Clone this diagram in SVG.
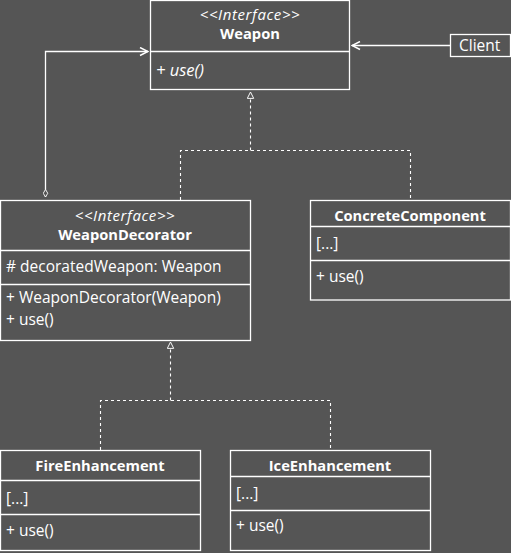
<svg xmlns="http://www.w3.org/2000/svg" width="511" height="553" viewBox="0 0 511 553">
<defs>
<style>
.bx{fill:none;stroke:#ffffff;stroke-width:1.3}
.ln{stroke:#ffffff;stroke-width:1.3;fill:none}
.ds{stroke:#ffffff;stroke-width:1.1;fill:none;stroke-dasharray:3,3}
text{font-family:"Open Sans","Liberation Sans",sans-serif;fill:#ffffff;font-size:15.5px}
.b{font-weight:bold;font-size:14.7px}
.i{font-style:italic}
.s{font-size:15px;letter-spacing:0.6px}
.c{text-anchor:middle}
</style>
<marker id="open" viewBox="0 0 10 10" refX="9" refY="5" markerWidth="10" markerHeight="10" markerUnits="userSpaceOnUse" orient="auto">
<path d="M1,1 L9,5 L1,9" fill="none" stroke="#fff" stroke-width="1.5"/>
</marker>
<marker id="tri" viewBox="0 0 10 10" refX="9" refY="5" markerWidth="8" markerHeight="8" markerUnits="userSpaceOnUse" orient="auto">
<path d="M1,1 L9,5 L1,9 Z" fill="#555555" stroke="#fff" stroke-width="1.2"/>
</marker>
<marker id="dia" viewBox="0 0 12 8" refX="1" refY="4" markerWidth="10" markerHeight="6" markerUnits="userSpaceOnUse" orient="auto">
<path d="M1,4 L6,1 L11,4 L6,7 Z" fill="#555555" stroke="#fff" stroke-width="1.2"/>
</marker>
</defs>
<rect width="511" height="553" fill="#555555"/>
<g id="connectors">
<path class="ln" d="M45.5,197 L45.5,51.5 L148,51.5" marker-start="url(#dia)" marker-end="url(#open)"/>
<path class="ln" d="M450,45.5 L352,45.5" marker-end="url(#open)"/>
<path class="ds" d="M250.5,150.5 L250.5,92" marker-end="url(#tri)"/>
<path class="ds" d="M180.5,200 L180.5,150.5 L410.5,150.5 L410.5,200"/>
<path class="ds" d="M170.5,400.5 L170.5,342" marker-end="url(#tri)"/>
<path class="ds" d="M100.5,450 L100.5,400.5 L330.5,400.5 L330.5,450"/>
</g>
<g id="weapon">
<rect class="bx" x="150.5" y="0.5" width="199" height="89" fill="#555555"/>
<line class="ln" x1="150.5" y1="51.5" x2="349.5" y2="51.5" stroke-width="2"/>
<text class="c i s" x="250" y="20">&lt;&lt;Interface&gt;&gt;</text>
<text class="c b" x="250" y="39">Weapon</text>
<text class="i" x="156" y="76" style="font-size:16.5px">+ use()</text>
</g>
<g id="client">
<rect class="bx" x="450.5" y="34.5" width="60" height="22"/>
<text x="459" y="51">Client</text>
</g>
<g id="weaponDecorator">
<rect class="bx" x="0.5" y="200.5" width="250" height="140"/>
<line class="ln" x1="0.5" y1="250.5" x2="250.5" y2="250.5"/>
<line class="ln" x1="0.5" y1="284.5" x2="250.5" y2="284.5"/>
<text class="c i s" x="125" y="221">&lt;&lt;Interface&gt;&gt;</text>
<text class="c b" x="125" y="240">WeaponDecorator</text>
<text x="6" y="272"># decoratedWeapon: Weapon</text>
<text x="6" y="302.5">+ WeaponDecorator(Weapon)</text>
<text x="6" y="324.5">+ use()</text>
</g>
<g id="concreteComponent">
<rect class="bx" x="310.5" y="200.5" width="200" height="99.5"/>
<line class="ln" x1="310.5" y1="226.5" x2="510.5" y2="226.5"/>
<line class="ln" x1="310.5" y1="260.5" x2="510.5" y2="260.5"/>
<text class="c b" x="410" y="221">ConcreteComponent</text>
<text x="316" y="249">[...]</text>
<text x="316" y="282">+ use()</text>
</g>
<g id="fireEnhancement">
<rect class="bx" x="0.5" y="450.5" width="200" height="100"/>
<line class="ln" x1="0.5" y1="480.5" x2="200.5" y2="480.5"/>
<line class="ln" x1="0.5" y1="514.5" x2="200.5" y2="514.5"/>
<text class="c b" x="100" y="471">FireEnhancement</text>
<text x="6" y="504">[...]</text>
<text x="6" y="536">+ use()</text>
</g>
<g id="iceEnhancement">
<rect class="bx" x="230.5" y="450.5" width="200" height="100"/>
<line class="ln" x1="230.5" y1="476.5" x2="430.5" y2="476.5"/>
<line class="ln" x1="230.5" y1="510.5" x2="430.5" y2="510.5"/>
<text class="c b" x="330" y="471">IceEnhancement</text>
<text x="236" y="499">[...]</text>
<text x="236" y="531">+ use()</text>
</g>
</svg>
